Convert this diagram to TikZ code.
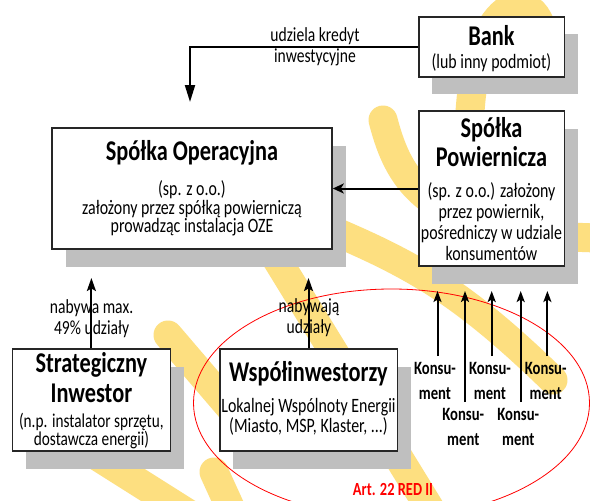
\documentclass[tikz,border=0pt]{standalone}
\usepackage{fontspec}
\setmainfont{Carlito}[FakeStretch=0.78]
\usetikzlibrary{arrows.meta,shadows}
\definecolor{sunyellow}{RGB}{253,223,128}
\definecolor{shadowgray}{RGB}{191,191,191}
\definecolor{framegray}{RGB}{38,38,38}
\definecolor{artred}{RGB}{255,0,0}
\begin{document}
\lineskiplimit=-100pt
\begin{tikzpicture}[x=1pt,y=-1pt,
  ray/.style={sunyellow, line width=29pt, line cap=round},
  orgbox/.style={draw=framegray, line width=1.6pt, fill=white, inner sep=0pt,
    drop shadow={shadow xshift=13.5pt, shadow yshift=-17.5pt, fill=shadowgray, opacity=1}},
  headtxt/.style={font=\fontsize{28.6}{#1}\selectfont\bfseries, align=center, inner sep=0pt},
  headtxt/.default=29,
  bodytxt/.style={font=\fontsize{20.4}{#1}\selectfont, align=center, inner sep=0pt},
  bodytxt/.default=20,
  flowtxt/.style={font=\fontsize{20}{21}\selectfont, align=center, inner sep=0pt},
  konstxt/.style={font=\fontsize{18.8}{25}\selectfont\bfseries, align=center, inner sep=0pt},
  link/.style={line width=2pt},
  uparrow/.style={link, -{Stealth[length=13pt,width=9pt,inset=2.5pt]}},
  konsarrow/.style={link, -{Stealth[length=11pt,width=8pt,inset=2.5pt]}}
]
\useasboundingbox (0,0) rectangle (590,501);
\fill[white] (0,0) rectangle (590,501);

% yellow sun rays in the background
\begin{scope}
  \clip (0,0) rectangle (590,501);
  \draw[ray] (470,112) .. controls (478,-15) and (548,-22) .. (545,60);
  \draw[ray] (383,120) .. controls (400,185) and (430,235) .. (600,238);
  \draw[ray] (290,213) .. controls (400,258) and (450,280) .. (553,380);
  \draw[ray] (268,245) -- (440,525);
  \draw[ray] (168,335) -- (245,425);
  \draw[ray] (214,472) -- (245,540);
  \draw[ray] (40,420) -- (230,540);
\end{scope}

% organisations
\node[orgbox, minimum width=145.6pt, minimum height=60pt] (bank) at (491.5,46.7) {};
\node[orgbox, minimum width=280pt, minimum height=121pt] (oper) at (192,188.5) {};
\node[orgbox, minimum width=145.6pt, minimum height=155pt] (powier) at (491.5,188.5) {};
\node[orgbox, minimum width=158pt, minimum height=102pt] (strat) at (91.4,400) {};
\node[orgbox, minimum width=177.6pt, minimum height=102pt] (wspol) at (308.5,400) {};

% community of consumers (Art. 22 RED II)
\begin{scope}
  \clip (0,0) rectangle (590,501);
  \draw[artred, line width=0.8pt] (391.5,403) ellipse [x radius=198, y radius=114];
\end{scope}
\node[font=\fontsize{18.5}{20}\selectfont\bfseries, text=artred, inner sep=0pt] (art) at (393,489) {Art. 22 RED II};

% texts inside the boxes
\node[headtxt] (bankT) at (491.5,36) {Bank};
\node[bodytxt] (bankS) at (491.5,63) {(lub inny podmiot)};
\node[headtxt] (operT) at (192,153) {Spółka Operacyjna};
\node[bodytxt=18.5] (operS) at (192,208.5) {(sp. z o.o.)\\założony przez spółką powierniczą\\prowadząc instalacja OZE};
\node[headtxt] (powierT) at (491.5,142.5) {Spółka\\Powiernicza};
\node[bodytxt=21] (powierS) at (491.5,221.5) {(sp. z o.o.) założony\\przez powiernik,\\pośredniczy w udziale\\konsumentów};
\node[headtxt=29.5] (stratT) at (91.4,377.5) {Strategiczny\\Inwestor};
\node[font=\fontsize{19.6}{18.2}\selectfont, align=center, inner sep=0pt] (stratS) at (91.4,431) {(n.p. instalator sprzętu,\\dostawcza energii)};
\node[headtxt] (wspolT) at (308.5,374) {Współinwestorzy};
\node[bodytxt=20] (wspolS) at (308.5,417) {Lokalnej Wspólnoty Energii\\(Miasto, MSP, Klaster, ...)};

% flows between the organisations
\coordinate (kredytEnd) at (190,102);
\draw[link, -{Triangle[length=17pt,width=10pt]}] (bank.west) -| (kredytEnd);
\node[flowtxt] (kredytL) at (315,46.5) {udziela kredyt\\inwestycyjne};

\draw[link, -{Stealth[length=11pt,width=10pt,inset=3pt]}] (powier.west) -- (oper.east);

\coordinate (stratEnd) at (91.4,278);
\draw[uparrow] (strat.north) -- (stratEnd);
\node[flowtxt] (stratL) at (91.6,319) {nabywa max.\\49\% udziały};

\coordinate (wspolEnd) at (308.5,278);
\draw[uparrow] (wspol.north) -- (wspolEnd);
\node[flowtxt] (wspolL) at (309,317.5) {nabywają\\udziały};

% consumers
\node[konstxt] (kons1) at (435,380.5) {Konsu-\\ment};
\node[konstxt] (kons2) at (463.3,426.5) {Konsu-\\ment};
\node[konstxt] (kons3) at (490,380.5) {Konsu-\\ment};
\node[konstxt] (kons4) at (518.3,426.5) {Konsu-\\ment};
\node[konstxt] (kons5) at (545.7,380.5) {Konsu-\\ment};

\coordinate (k1) at (437.5,356);
\coordinate (k2) at (465,402);
\coordinate (k3) at (491.7,356);
\coordinate (k4) at (520.7,402);
\coordinate (k5) at (547.4,356);
\foreach \k in {k1,k2,k3,k4,k5}
  \draw[konsarrow] (\k) -- (\k |- 0,291);
\end{tikzpicture}
\end{document}
